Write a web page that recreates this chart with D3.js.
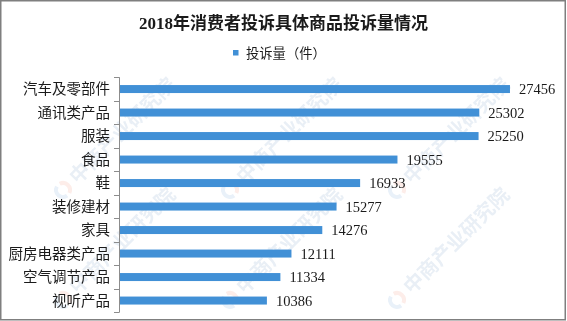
<!DOCTYPE html>
<html>
<head>
<meta charset="utf-8">
<script src="https://cdn.jsdelivr.net/npm/d3@7"></script>
<style>
  body { margin: 0; background: #fff; }
  svg { display: block; }
  text { font-family: "Liberation Serif", "Noto Sans CJK SC", serif; }
</style>
</head>
<body>
<div class="chart"></div>
<script>
// data
const categories = ["汽车及零部件", "通讯类产品", "服装", "食品", "鞋", "装修建材", "家具", "厨房电器类产品", "空气调节产品", "视听产品"];
const complaints = [27456, 25302, 25250, 19555, 16933, 15277, 14276, 12111, 11334, 10386];
const titleText = "2018年消费者投诉具体商品投诉量情况";
const legendText = "投诉量（件）";
const watermarkText = "中商产业研究院";

const width = 567;
const height = 321;

const svg = d3.select(".chart")
  .append("svg")
  .attr("width", width)
  .attr("height", height);

svg.append("rect")
  .attr("width", width)
  .attr("height", height)
  .attr("fill", "#fff");

// faint watermark, only the tiles that sit fully inside the frame
const wm = svg.append("g").attr("opacity", 0.11);
const tileX = [63, 230, 397];
const tileY = [190, 300];
tileX.forEach((tx) => {
  tileY.forEach((ty) => {
    const g = wm.append("g").attr("transform", `translate(${tx},${ty}) rotate(-45)`);
    g.append("path")
      .attr("d", d3.arc()({ innerRadius: 5, outerRadius: 9, startAngle: 0.3, endAngle: 2.8 }))
      .attr("fill", "#e8603c");
    g.append("path")
      .attr("d", d3.arc()({ innerRadius: 5, outerRadius: 9, startAngle: 3.3, endAngle: 6.0 }))
      .attr("fill", "#3a7cc4");
    g.append("text")
      .attr("x", 14)
      .attr("y", 7)
      .attr("font-size", 20)
      .attr("font-family", "Noto Sans CJK SC")
      .attr("font-weight", "bold")
      .attr("fill", "#3a6fa8")
      .text(watermarkText);
  });
});

// scales
const x = d3.scaleLinear()
  .domain([0, 30000])
  .range([119, 546.2]);

const y = d3.scaleBand()
  .domain(categories)
  .range([77.3, 312.3])
  .padding(0);

const barH = y.bandwidth() * 0.34;

// title
svg.append("text")
  .attr("x", width / 2)
  .attr("y", 29)
  .attr("text-anchor", "middle")
  .attr("font-size", 17)
  .attr("font-weight", "bold")
  .attr("fill", "#1a1a1a")
  .text(titleText);

// legend
svg.append("rect")
  .attr("x", 233)
  .attr("y", 50)
  .attr("width", 5.5)
  .attr("height", 5.5)
  .attr("fill", "#4190d6");

svg.append("text")
  .attr("x", 246)
  .attr("y", 58)
  .attr("font-size", 13.3)
  .attr("fill", "#1a1a1a")
  .text(legendText);

// bars
svg.append("g")
  .selectAll("rect")
  .data(complaints)
  .join("rect")
  .attr("x", x(0))
  .attr("y", (d, i) => y(categories[i]) + (y.bandwidth() - barH) / 2)
  .attr("width", (d) => x(d) - x(0))
  .attr("height", barH)
  .attr("fill", "#4190d6");

// value labels
svg.append("g")
  .selectAll("text")
  .data(complaints)
  .join("text")
  .attr("x", (d) => x(d) + 9)
  .attr("y", (d, i) => y(categories[i]) + y.bandwidth() / 2)
  .attr("dy", "0.35em")
  .attr("font-size", 14.5)
  .attr("fill", "#1a1a1a")
  .text((d) => d);

// category axis (ticks on band edges)
const axis = svg.append("g")
  .attr("stroke", "#8c8c8c")
  .attr("stroke-width", 1);

axis.append("line")
  .attr("x1", x(0) + 0.5)
  .attr("x2", x(0) + 0.5)
  .attr("y1", y.range()[0])
  .attr("y2", y.range()[1]);

const edges = categories.map((c) => y(c)).concat([y.range()[1]]);
axis.selectAll("line.tick")
  .data(edges)
  .join("line")
  .attr("class", "tick")
  .attr("x1", x(0) - 5)
  .attr("x2", x(0) + 0.5)
  .attr("y1", (d) => Math.round(d) + 0.5)
  .attr("y2", (d) => Math.round(d) + 0.5);

svg.append("g")
  .selectAll("text")
  .data(categories)
  .join("text")
  .attr("x", 110)
  .attr("y", (d) => y(d) + y.bandwidth() / 2)
  .attr("dy", "0.35em")
  .attr("text-anchor", "end")
  .attr("font-size", 14.5)
  .attr("fill", "#1a1a1a")
  .text((d) => d);

// outer frame
svg.append("rect")
  .attr("x", 0.75)
  .attr("y", 0.75)
  .attr("width", width - 2.5)
  .attr("height", height - 2)
  .attr("fill", "none")
  .attr("stroke", "#7f7f7f")
  .attr("stroke-width", 1.5);
</script>
</body>
</html>
